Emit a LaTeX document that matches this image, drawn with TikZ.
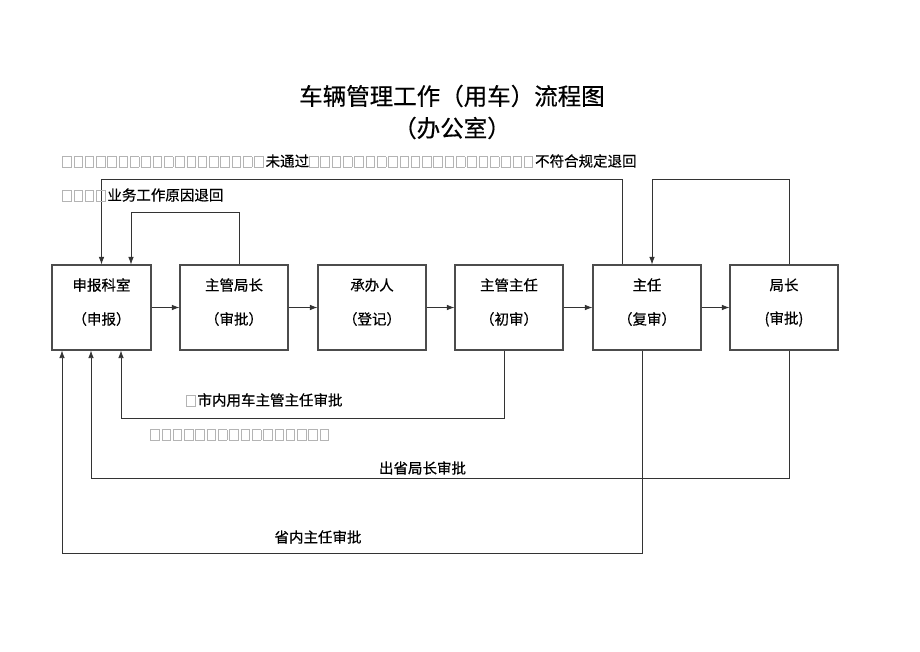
\documentclass[tikz,border=0pt]{standalone}
\usepackage{fontspec}
\setmainfont{Noto Sans CJK SC}[FakeBold=0.5]
\usetikzlibrary{arrows.meta}
\definecolor{tofugray}{HTML}{B4B4B4}
\definecolor{linegray}{HTML}{333333}
\newcommand\tofu{\makebox[11.3pt][l]{\textcolor{tofugray}{\fboxsep=0pt\fboxrule=0.8pt\fbox{\rule{0pt}{9.5pt}\hspace{7.8pt}}}}}
\newcommand\tofus[1]{\foreach \i in {1,...,#1}{\tofu}}
\begin{document}
\begin{tikzpicture}[x=1pt,y=-1pt,
  box/.style={draw=black!70,line width=1.1pt,minimum height=85pt,inner sep=0pt},
  lbl/.style={font=\fontsize{14.5}{17}\selectfont,inner sep=0pt},
  arr/.style={draw=linegray,line width=0.8pt,-{Latex[length=7.5pt,width=5.5pt]}},
  ttl/.style={font=\fontsize{23.5}{28}\selectfont,inner sep=0pt}]
\useasboundingbox[fill=white] (0,0) rectangle (920,651);
% title
\node[ttl] (t1) at (452,96) {车辆管理工作（用车）流程图};
\node[ttl] (t2) at (452,128) {（办公室）};
% boxes
\node[box,minimum width=99pt] (b1) at (101.5,307.5) {};
\node[box,minimum width=108pt] (b2) at (234,307.5) {};
\node[box,minimum width=108pt] (b3) at (372,307.5) {};
\node[box,minimum width=108pt] (b4) at (509,307.5) {};
\node[box,minimum width=108pt] (b5) at (647,307.5) {};
\node[box,minimum width=108pt] (b6) at (784,307.5) {};
% box labels
\node[lbl] (b1a) at ([yshift=22.5pt]b1.center) {申报科室};
\node[lbl] (b1b) at ([yshift=-11.5pt]b1.center) {（申报）};
\node[lbl] (b2a) at ([yshift=22.5pt]b2.center) {主管局长};
\node[lbl] (b2b) at ([yshift=-11.5pt]b2.center) {（审批）};
\node[lbl] (b3a) at ([yshift=22.5pt]b3.center) {承办人};
\node[lbl] (b3b) at ([yshift=-11.5pt]b3.center) {（登记）};
\node[lbl] (b4a) at ([yshift=22.5pt]b4.center) {主管主任};
\node[lbl] (b4b) at ([yshift=-11.5pt]b4.center) {（初审）};
\node[lbl] (b5a) at ([yshift=22.5pt]b5.center) {主任};
\node[lbl] (b5b) at ([yshift=-11.5pt]b5.center) {（复审）};
\node[lbl] (b6a) at ([yshift=22.5pt]b6.center) {局长};
\node[lbl] (b6b) at ([yshift=-11.5pt]b6.center) {(审批)};
% horizontal arrows
\draw[arr] (b1.east) -- (b2.west);
\draw[arr] (b2.east) -- (b3.west);
\draw[arr] (b3.east) -- (b4.west);
\draw[arr] (b4.east) -- (b5.west);
\draw[arr] (b5.east) -- (b6.west);
% top return lines
\draw[arr] ([xshift=-25pt]b5.north) |- ([yshift=85pt]b1.north) -- (b1.north);
\draw[arr] ([xshift=5pt]b2.north) |- ([xshift=29.5pt,yshift=52pt]b1.north) -- ([xshift=29.5pt]b1.north);
\draw[arr] ([xshift=5pt]b6.north) |- ([xshift=5pt,yshift=85pt]b5.north) -- ([xshift=5pt]b5.north);
% bottom return lines
\draw[arr] ([xshift=-5pt]b4.south) |- ([xshift=19.5pt,yshift=-68pt]b1.south) -- ([xshift=19.5pt]b1.south);
\draw[arr] ([xshift=5pt]b6.south) |- ([xshift=-10.5pt,yshift=-128pt]b1.south) -- ([xshift=-10.5pt]b1.south);
\draw[arr] ([xshift=-5pt]b5.south) |- ([xshift=-39.5pt,yshift=-203pt]b1.south) -- ([xshift=-39.5pt]b1.south);
% free texts
\node[lbl,anchor=west] (l1) at (62,161) {\tofus{18}未通过\tofus{20}不符合规定退回};
\node[lbl,anchor=west] (l2) at (62,195) {\tofus{4}业务工作原因退回};
\node[lbl,anchor=west] (l3) at (186,400) {\tofu 市内用车主管主任审批};
\node[lbl,anchor=west] (l4) at (150,435) {\tofus{16}};
\node[lbl] (l5) at (422.5,468) {出省局长审批};
\node[lbl] (l6) at (318,537) {省内主任审批};
\end{tikzpicture}
\end{document}
